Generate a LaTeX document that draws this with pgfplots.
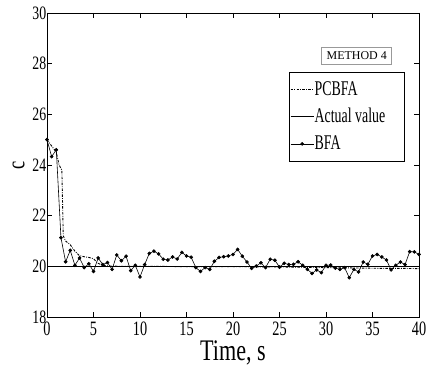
\documentclass[border=0pt]{standalone}
\usepackage{fontspec}
\setmainfont{Liberation Serif}
\newfontfamily\xtfont{Liberation Serif}[FakeStretch=0.70]
\newfontfamily\ytfont{Liberation Serif}[FakeStretch=0.73]
\newfontfamily\labfont{Liberation Serif}[FakeStretch=0.74]
\newfontfamily\legfont{Liberation Serif}[FakeStretch=0.665]
\usepackage{pgfplots}
\pgfplotsset{compat=1.18}

\pgfplotstableread{
t v
0 25.0
0.5 24.33
1.0 24.6
1.5 21.13
2.0 20.18
2.5 20.63
3.0 20.04
3.5 20.33
4.0 19.95
4.5 20.1
5.0 19.8
5.5 20.33
6.0 20.07
6.5 20.15
7.0 19.88
7.5 20.45
8.0 20.22
8.5 20.4
9.0 19.83
9.5 20.04
10.0 19.58
10.5 20.07
11.0 20.51
11.5 20.6
12.0 20.49
12.5 20.28
13.0 20.25
13.5 20.37
14.0 20.29
14.5 20.55
15.0 20.41
15.5 20.36
16.0 19.95
16.5 19.8
17.0 19.95
17.5 19.88
18.0 20.2
18.5 20.35
19.0 20.38
19.5 20.41
20.0 20.47
20.5 20.67
21.0 20.4
21.5 20.17
22.0 19.92
22.5 20.01
23.0 20.14
23.5 19.95
24.0 20.28
24.5 20.24
25.0 19.97
25.5 20.12
26.0 20.07
26.5 20.08
27.0 20.18
27.5 20.04
28.0 19.88
28.5 19.72
29.0 19.86
29.5 19.75
30.0 20.04
30.5 20.05
31.0 19.93
31.5 19.88
32.0 19.95
32.5 19.55
33.0 19.88
33.5 19.78
34.0 20.17
34.5 20.08
35.0 20.41
35.5 20.47
36.0 20.37
36.5 20.25
37.0 19.86
37.5 20.04
38.0 20.17
38.5 20.07
39.0 20.58
39.5 20.57
40.0 20.47
}\bfa

\pgfplotstableread{
t v
0 25.0
0.5 24.75
1.0 24.5
1.3 24.0
1.6 23.8
1.75 21.2
2.0 21.0
2.5 20.85
3.0 20.6
3.5 20.42
4.0 20.38
4.5 20.35
5.0 20.3
5.5 20.12
6.0 20.03
7.0 20.01
8.0 20.0
10.0 20.0
12.0 20.0
14.0 19.99
16.0 19.99
18.0 19.99
20.0 19.99
22.0 19.98
24.0 19.98
26.0 19.97
28.0 19.96
30.0 19.95
32.0 19.94
34.0 19.93
36.0 19.92
38.0 19.92
40.0 19.91
}\pcbfa

\pgfplotstableread{
t v
0 20
40 20
}\actual

\pgfplotsset{
  mylegimg/.style={legend image code/.code={\draw[mark repeat=2,mark phase=2,##1] plot coordinates {(0bp,0bp) (11.5bp,0bp) (23bp,0bp)};}},
}

\begin{document}
\begin{tikzpicture}
\begin{axis}[
  scale only axis, width=372bp, height=304bp,
  xmin=0, xmax=40, ymin=18, ymax=30,
  xtick={0,5,...,40}, ytick={18,20,...,30},
  tick align=inside, major tick length=5bp,
  xtick pos=both, ytick pos=both,
  axis line style={line width=0.8pt},
  every tick/.style={black, line width=0.6pt},
  /pgf/number format/assume math mode=true,
  xticklabel style={font=\xtfont\fontsize{20.5}{20.5}\selectfont, inner sep=0pt, yshift=-5bp},
  yticklabel style={font=\ytfont\fontsize{19}{19}\selectfont, inner sep=0pt, xshift=-0.5bp},
  xlabel={Time, s}, ylabel={c},
  xlabel style={font=\labfont\fontsize{30}{30}\selectfont, at={(axis description cs:0.5,0)}, anchor=base, yshift=-43bp},
  ylabel style={font=\labfont\fontsize{25}{25}\selectfont, at={(axis description cs:-0.0765,0.5)}, anchor=center},
  legend cell align=left,
  legend style={at={(0.963,0.806)}, anchor=north east, draw=black, line width=0.8pt,
    font=\legfont\fontsize{21}{21}\selectfont, inner xsep=1bp, inner ysep=6bp,
    row sep=4bp,
    nodes={inner xsep=0.5bp, inner ysep=2bp, text height=15bp, text depth=4bp}},
]
\addplot[mylegimg, black, line width=0.9pt, dash pattern=on 2.5pt off 1.3pt on 0.8pt off 1.3pt] table[x=t,y=v] {\pcbfa};
\addlegendentry{PCBFA}
\addplot[mylegimg, black, line width=0.8pt] table[x=t,y=v] {\actual};
\addlegendentry{Actual value\rule{18bp}{0pt}}
\addplot[mylegimg, black, line width=0.6pt, mark=*, mark size=1.5bp] table[x=t,y=v] {\bfa};
\addlegendentry{BFA}
\node[draw=gray!80, line width=0.6pt, font=\fontsize{12}{12}\selectfont, inner xsep=5bp, inner ysep=4.5bp] at (axis cs:33.3,28.32) {METHOD 4};
\coordinate (ll) at (rel axis cs:0,0);
\coordinate (ur) at (rel axis cs:1,1);
\end{axis}
\pgfresetboundingbox
\path ([shift={(-47bp,-51bp)}]ll) rectangle ([shift={(9bp,13bp)}]ur);
\end{tikzpicture}
\end{document}
